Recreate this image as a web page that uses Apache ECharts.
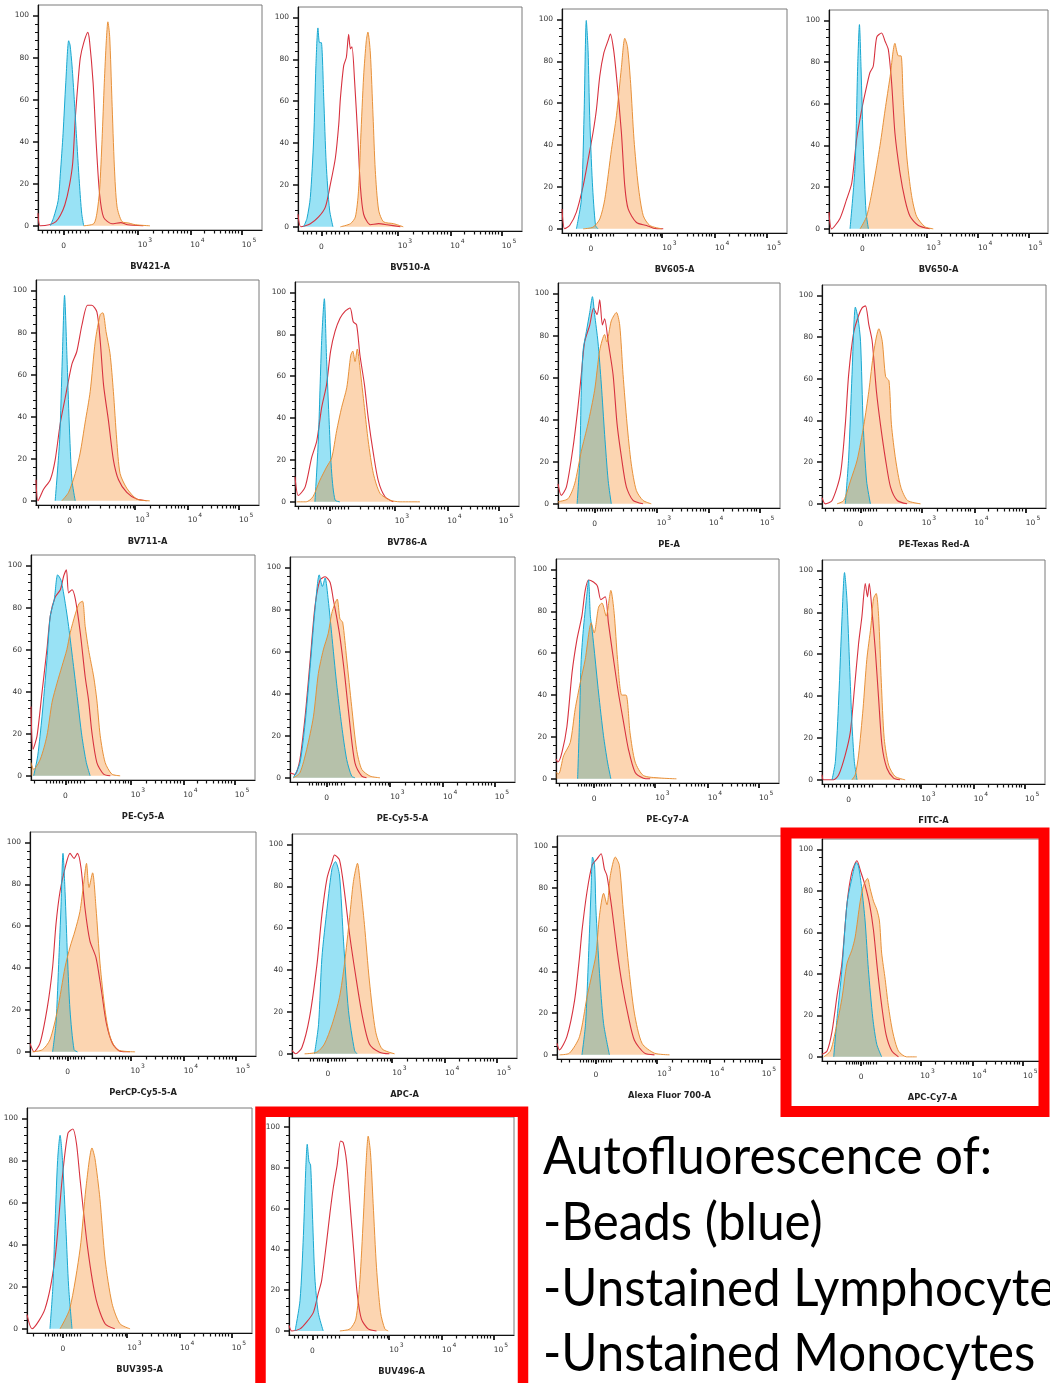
<!DOCTYPE html>
<html>
<head>
<meta charset="utf-8">
<script src="https://cdn.jsdelivr.net/npm/echarts@6/dist/echarts.min.js"></script>
<style>
html,body{margin:0;padding:0;background:#fff;}
#chart{width:1050px;height:1383px;}
</style>
</head>
<body>
<div id="chart"></div>
<script>
// ---------- Panel names and axis tick labels ----------
const PANELS = ['BV421-A','BV510-A','BV605-A','BV650-A','BV711-A','BV786-A','PE-A','PE-Texas Red-A',
  'PE-Cy5-A','PE-Cy5-5-A','PE-Cy7-A','FITC-A','PerCP-Cy5-5-A','APC-A','Alexa Fluor 700-A','APC-Cy7-A',
  'BUV395-A','BUV496-A'];
// x axis in display channels (0-100); channel of the "0" label for each panel
const ZERO_CH = [11.5,10.4,12.8,15.2,15.1,15.3,16.5,17.2,15.3,16.3,17.1,11.9,16.6,16,17.3,17.7,16,10.4];
const DEC_CH = [44.5, 68, 91];          // channels of 10^3, 10^4, 10^5
const DEC_EXP = ['3','4','5'];           // 10^3, 10^4, 10^5
const Y_TICKS = [0,20,40,60,80,100];
const Y_MINOR = [4,8,12,16,24,28,32,36,44,48,52,56,64,68,72,76,84,88,92,96];
const NOTE_LINES = ['Autofluorescence of:','-Beads (blue)','-Unstained Lymphocytes (red)','-Unstained Monocytes (orange)'];

// ---------- Histogram data: [channel, % of max] ----------
const BV421_beads = [[5.5,0],[7,4],[9,12],[10,25],[11.2,44],[12.4,68],[13.7,88],[14.3,86],[15.2,76],[16.2,60],[17.1,44],[18.5,20],[19.5,6],[20.4,0]];
const BV421_lymph = [[0,6],[1,0],[5,0.5],[8,2],[10,5],[12,10],[14,19],[15.5,30],[16.7,52],[18,70],[18.9,80],[20.4,87],[22.2,92],[23,88],[24.6,68],[26,39],[27.5,15],[29.3,4],[33,1],[37,1.5],[40,0.5],[47,0]];
const BV421_mono = [[20.4,0],[24.9,1],[26.3,6],[27.5,17],[28.6,41],[29.6,68],[30.5,88],[31.2,97],[32,90],[33,60],[34.1,28],[35.3,9],[37.5,2],[40.5,1.3],[43.5,0.5],[50,0]];

const BV510_beads = [[2.5,0],[4,4],[5.5,14],[7,42],[8,77],[8.9,95],[9.6,88],[10.4,88],[11.5,61],[12.6,30],[14.1,8],[15.6,0]];
const BV510_lymph = [[0,6],[1.3,0],[5.5,1.5],[9.2,4.7],[12.2,9.4],[14.4,20],[16.7,33],[18.2,49],[18.9,61],[20.4,77],[21.6,81],[22.6,92],[23.4,85],[24.1,86],[25.3,69],[26.8,41],[27.8,20],[29.3,6],[32.3,1],[36,1.5],[39.7,1],[45.7,0]];
const BV510_mono = [[18.9,0],[23.4,1.5],[25.6,4.7],[27,17],[28,42],[29.3,72],[30.5,89],[31.2,93],[32.3,83],[33.5,53],[34.5,27],[36,8],[38.2,2.4],[42.7,1.5],[47,0]];

const BV605_beads = [[6.4,0],[8.6,14],[9.8,54],[10.8,99.5],[11.6,85],[12.3,54],[13.5,22],[14.9,1.6],[16,0]];
const BV605_lymph = [[0,9.5],[1.2,0],[3.4,1.6],[6.4,8],[9.4,20.5],[11.6,33],[13.8,46],[15.3,57],[16.8,73],[18.6,84],[20.5,90],[21.5,93],[23,85],[24.5,69.5],[26.4,46],[27.9,20.5],[29.4,9.5],[33.1,3],[37.6,1.6],[40.6,0.3],[45,0]];
const BV605_mono = [[9.4,0],[13.8,0.8],[16.8,4.7],[19,14],[22,38],[24.2,54],[26.4,77],[27.9,91],[29.1,87],[30.5,69.5],[32,42.6],[33.9,20.5],[36.1,6.3],[39,1.6],[44.3,0]];

const BV650_beads = [[9.6,0],[11.9,30],[13.1,78],[13.9,98],[14.6,78],[15.7,38],[16.9,8],[18,0]];
const BV650_lymph = [[0,8],[1.2,0],[5,5],[8,14],[10.4,22],[12.6,43],[14.9,57],[16.9,67],[18.7,75],[20.2,78],[21.8,92],[24,94],[25.6,90],[27.1,86],[28.6,70],[30.1,46],[32.4,27],[34.7,14],[37,6],[40.8,1.6],[46,0]];
const BV650_mono = [[14.2,0],[17.2,6],[20.2,21],[23.3,40],[25.6,57],[27.9,73],[30.1,89],[31.7,83],[32.9,83],[33.9,62],[35.5,35],[37.7,16],[40,6],[43.8,1],[47.6,0]];

const BV711_beads = [[8.6,0],[10.6,29],[11.8,68],[12.8,97.7],[13.9,68],[14.9,37],[16.1,10],[17.6,0]];
const BV711_lymph = [[0,10],[0.9,0],[3.4,5.5],[6.4,10],[8.6,19.5],[10.9,37],[13.1,49],[16.1,65],[18.3,71],[20.6,83.6],[23.1,93],[25,93],[27.3,89.8],[28.8,76],[30.3,55],[32.5,38],[34.7,19.5],[37,10],[40.7,4],[45.2,0.8],[49.6,0]];
const BV711_mono = [[11.6,0],[14.6,4],[17.6,13],[19.8,22.7],[22,37],[24.3,52],[26.6,76],[28.8,88.6],[30,89.4],[31.4,80.5],[33.2,70],[34.7,52],[36.2,29],[37.7,13],[40.7,6],[45.2,0.8],[51,0]];

const BV786_beads = [[8.9,0],[10.4,29],[11.9,77],[13.1,97],[14.1,68],[15.3,37],[16.4,13.4],[17.9,0.8],[20,0]];
const BV786_lymph = [[0,12],[1.5,3],[4.5,7],[7.4,21],[9.7,29],[11.9,45],[14.1,56],[15.9,72],[17.9,81.5],[20.1,87.7],[22.3,91],[24.6,92.6],[26,86],[27.5,84.5],[29,70],[31,56],[32.7,40],[35,23],[37.2,10],[40.2,2.4],[43.9,0]];
const BV786_mono = [[0.7,0],[5,0],[8,2.4],[11,10],[14.1,16.6],[16.4,21],[18.6,34],[20.8,45],[23.1,54.5],[24.9,70],[25.8,72],[26.8,67],[27.8,73],[29,64],[31,45],[32.7,29],[35,13.4],[38,4],[42.4,0.8],[46.9,0],[55.8,0]];

const PE_beads = [[8.6,0],[9.8,20.5],[10.5,54],[11.3,73],[12.8,82],[14.3,91],[15.5,98.5],[16.5,90],[18,77],[19.5,57],[21,33],[22.6,11],[24,0]];
const PE_lymph = [[0,9.5],[1.5,4],[3.8,8],[6.8,27],[9,46],[10.5,61.5],[12,77],[14.3,85],[16,93],[17.6,90],[18.8,97],[20,85],[21,88],[22.6,77],[24.8,61.5],[26.6,38],[28.6,22],[30.8,8],[33.8,1.6],[38.3,0]];
const PE_mono = [[0,1],[4.5,2.4],[7.5,9.5],[10.5,25],[13.5,38],[16.5,54],[18.8,73],[21,80.5],[22,77],[24,87],[26.3,91],[27.8,85],[29.3,61.5],[31.1,38],[33,19],[35.3,6.3],[38.3,1.6],[42,0]];

const PETR_beads = [[10.4,0],[11.9,22],[13.4,62],[14.9,94.4],[16.1,89],[17.2,78],[18.4,38],[19.9,11],[21.6,0]];
const PETR_lymph = [[0,3],[1.5,0],[4.5,1.6],[8.2,14],[10.4,38],[11.9,62],[14.2,82.5],[16.4,90.5],[17.9,94],[19.4,95],[20.9,86],[22.4,78],[24.3,54],[26.1,38],[28.4,21],[30.6,8],[33.6,1.6],[38,0]];
const PETR_mono = [[6.7,0],[9.7,1.6],[12.7,11],[15.7,21],[18.7,38],[20.9,54],[23.1,73],[25.4,84],[26.9,78],[28.4,61],[29.9,59],[31,38],[32.9,21],[35.2,8],[38.2,1.6],[44,0]];

const PECy5_beads = [[1.2,0],[3,9.5],[4.9,28],[7.1,55],[8.6,76],[10.4,84],[11.9,95.6],[13.4,93],[15.3,82],[16.8,71],[19,52],[20.8,36],[22.7,19],[24.7,6.3],[26.4,0]];
const PECy5_lymph = [[0,33],[0.9,12.6],[2.7,19],[4.9,39.5],[7.1,60],[8.6,76],[10.8,85],[13.1,88.5],[14.6,95],[15.8,98],[16.8,87],[18.3,88.5],[19.8,84],[22,68],[24.2,47],[25.7,36],[27.2,20.5],[29.4,6.3],[32.4,0.8],[35.4,0]];
const PECy5_mono = [[0,6.3],[1.2,3],[4.2,8],[7.1,19],[9.4,35],[11.6,44],[13.8,52],[16,60],[17.5,68],[19.8,77],[21.5,82],[23,83],[24.2,71],[25.7,60],[28,47],[29.4,36],[30.9,19],[33.1,6.3],[36.1,0.8],[39.8,0]];

const PECy55_beads = [[1.5,0],[4.4,7],[6.7,26],[8.9,52],[11.1,80],[13,96.5],[14.4,91],[15.6,95],[17,84.5],[18.5,68.7],[20.7,45],[23,24.6],[25.2,8.7],[27.4,0.8],[28.9,0]];
const PECy55_lymph = [[0,2.4],[2.2,1.6],[4.4,8.7],[6.7,29],[8.9,55],[11.1,81.5],[13.3,94],[15.6,95.6],[17.8,93],[19.3,84.5],[20.7,76.6],[22.2,67],[24.4,48],[26.7,24.6],[28.9,7],[31.9,0.8],[34,0]];
const PECy55_mono = [[1.5,0],[4.4,2.4],[7.4,13.4],[10.4,29],[12.6,49.6],[14.8,60.8],[17,68.7],[18.5,78],[20,83],[21,85],[22.2,75.5],[23.4,74],[25.2,56.5],[27.4,34],[29.6,13.4],[31.9,4],[35.6,0.8],[40,0]];

const PECy7_beads = [[9.7,0],[10.6,30],[11.3,57],[12.4,73],[13.9,88.6],[14.6,95],[15.4,77.7],[16,73],[17.1,62],[19.1,41],[21.3,20.6],[23.1,8],[24.6,0]];
const PECy7_lymph = [[0,9.5],[0.9,8],[2.7,12.7],[4.9,25],[7.2,50.7],[9.4,66.6],[11.6,77.7],[13.1,90],[14.6,95],[16.8,94],[18.6,92],[20.1,85.6],[22.1,87],[23.5,74.5],[25.8,57],[28,41],[30.3,27],[32.5,14],[35.5,3],[39.2,0.3],[42.2,0]];
const PECy7_mono = [[0,3],[1.2,2.4],[3.4,11],[6.4,17.4],[8.6,33.3],[10.9,46],[13.1,57],[15.8,74.5],[17.1,69.7],[19.1,82],[20.6,84],[22.5,77.7],[24.6,90],[26.1,79],[27.6,57],[29.5,40],[31.4,40],[33.2,22],[35.5,8],[39.2,1.6],[46.6,0.4],[54,0]];

const FITC_beads = [[4.5,0],[6,8.7],[7.5,38.6],[9,78],[10.1,99],[11.2,85.8],[12.4,54],[13.4,27.6],[14.5,8.7],[15.7,0]];
const FITC_lymph = [[0,2.4],[0.7,0],[5.2,0],[7.5,2.4],[10.4,11.8],[12.7,22.8],[14.5,43],[16.4,65],[17.9,78],[19.4,93.7],[20.4,87.4],[21.2,93.7],[22.4,81],[23.9,62],[25.4,38.6],[26.9,16.5],[29.1,5.5],[32.1,0.8],[35,0]];
const FITC_mono = [[13.4,0],[14.9,2.4],[16.4,11.8],[18.4,33.9],[20.1,57.5],[21.9,73],[23.1,86.6],[24.3,89],[25.4,78],[26.6,46.5],[27.9,19.7],[29.9,7],[32.8,1.6],[37.3,0]];

const PerCP_beads = [[10,0],[11.5,13.6],[12.8,45],[13.7,68.8],[14.6,94.8],[15.5,76.7],[16.6,45],[17.7,20],[19.5,1],[21,0]];
const PerCP_lymph = [[0,4],[1.8,0],[4.4,4],[7.7,21.5],[10,40.4],[11.5,61],[13.3,76.7],[15.5,87.7],[17.7,94.8],[19.5,92.4],[21,94.8],[22.6,87.7],[24.3,68.8],[26.5,53],[29.2,45],[31.6,29.3],[33.8,13.6],[36.5,4],[39.8,0.3],[44.2,0]];
const PerCP_mono = [[1.1,0],[5.5,1],[8.8,5.7],[12.2,20],[15.5,40.4],[17.7,50],[19.9,57.7],[22.1,67],[23.7,80],[25,90],[26.1,78.5],[27.7,85.5],[29.2,68.8],[31,42],[33.2,20],[35.4,7.3],[38.7,1],[46.5,0]];

const APC_beads = [[10,0],[11.8,14],[13.3,46],[15.6,69.6],[17.8,88.6],[19.3,91.8],[21.1,85.4],[22.9,53.8],[25.1,20.6],[27.8,1.6],[28.9,0]];
const APC_lymph = [[0,1.6],[1.6,0],[4.4,3],[7.8,17.4],[11.1,42.7],[13.3,66.5],[15.6,84],[17.8,91.8],[18.9,95],[21.1,92.6],[23.3,77.5],[25.6,57],[28.2,38],[31.1,19],[34.4,4.7],[38.9,0.8],[43.3,0]];
const APC_mono = [[5.6,0],[11.1,0.8],[14.4,4.7],[17.8,14],[21.1,27],[23.3,42.7],[25.6,65],[27.3,82.3],[29.1,91],[30.4,80.7],[32.2,61.7],[34.4,34.8],[37.1,11],[40,2.4],[45.6,0]];

const AF700_beads = [[11.1,0],[12.7,15],[14,46.8],[15.1,78],[15.8,94.9],[16.7,91],[17.3,70],[18.9,39],[20.7,15],[23.3,0]];
const AF700_lymph = [[0,5.5],[1.1,2.4],[4.4,8.7],[7.8,26],[10,46.8],[11.1,59.5],[13.3,78],[15.6,91],[17.8,94],[19.6,96.5],[21.1,89],[22.2,86],[24.4,70],[26.7,50],[28.9,34],[31.8,18],[34.4,7],[38.9,0.8],[43.3,0]];
const AF700_mono = [[1.1,0],[5.5,0.8],[10,8.7],[13.3,27.5],[15.6,39],[17.3,48],[18.9,67],[20.7,77.5],[22.2,72],[23.7,86],[25.9,94.9],[27.7,91],[29.4,70],[31.7,44],[34.4,20],[37.8,5.5],[43.3,0.8],[50,0]];

const APCCy7_beads = [[5.3,0],[6.8,18.5],[9,42],[11.3,73.7],[13.5,86],[15.5,93.7],[16.5,92],[18,81],[19.5,65.5],[21,42],[23,18.5],[24.8,6],[27,0]];
const APCCy7_lymph = [[0,1.2],[2.3,2.8],[4.5,12],[6.8,29.5],[9,45],[11.3,73.7],[13.5,89],[15.8,94.5],[17.6,89],[19.5,82.6],[21.5,73.7],[23.3,61],[25.1,42],[27,24.8],[29,10.7],[31.6,2.8],[34.6,0]];
const APCCy7_mono = [[0.8,0],[3.8,2.8],[6,12],[9,28],[11.3,45],[13.5,51.4],[15,57.7],[17.3,75],[18.8,82.6],[20.6,86],[21.8,81],[23.3,75],[24.8,71],[26,65.5],[27,50],[28.6,37.3],[30,24.8],[32,12],[34.6,2.8],[38.3,0],[42.9,0]];

const BUV395_beads = [[10.2,0],[11.5,20],[12.4,47.6],[13.6,80],[14.7,92],[15.8,80],[17.3,47.6],[18.5,20],[20,0]];
const BUV395_lymph = [[0,6.7],[2.2,0],[8,9.5],[12.4,33],[15.6,71],[18.2,93],[20.4,95],[22,88],[23.6,71],[27,38],[30.7,14],[34.7,2.4],[39,0]];
const BUV395_mono = [[14.7,0],[19,9.5],[23.6,38],[26.2,67],[28.9,86],[30.2,81],[32.4,62],[34.7,33],[37.8,12],[41.3,2.4],[45.8,0]];

const BUV496_beads = [[2.7,0],[4.9,15],[6.4,46.8],[7.4,78],[8.1,91.6],[8.9,83],[9.6,81.4],[10.5,54.6],[11.5,26],[13,9],[15.2,0]];
const BUV496_lymph = [[0,2.7],[1.2,0],[4.9,1],[7.8,4.3],[10.8,9],[13,18.4],[14.5,24.7],[16.7,43.6],[18.2,57.8],[19.7,70.4],[21.4,81.4],[22.9,93.2],[24.1,92.4],[25.6,83],[27.1,62.5],[28.8,38.9],[30.3,18.4],[32.2,5.8],[35.2,1],[38.9,0]];
const BUV496_mono = [[22.6,0],[27.1,1],[29.7,5.8],[31.5,24.7],[33,54.6],[34.2,81.4],[35.2,95.6],[36.2,87.7],[37.4,62.5],[38.9,31],[40.7,9],[42.6,1],[44.1,0]];

const PANEL_DATA = [
  [BV421_beads,BV421_lymph,BV421_mono],[BV510_beads,BV510_lymph,BV510_mono],
  [BV605_beads,BV605_lymph,BV605_mono],[BV650_beads,BV650_lymph,BV650_mono],
  [BV711_beads,BV711_lymph,BV711_mono],[BV786_beads,BV786_lymph,BV786_mono],
  [PE_beads,PE_lymph,PE_mono],[PETR_beads,PETR_lymph,PETR_mono],
  [PECy5_beads,PECy5_lymph,PECy5_mono],[PECy55_beads,PECy55_lymph,PECy55_mono],
  [PECy7_beads,PECy7_lymph,PECy7_mono],[FITC_beads,FITC_lymph,FITC_mono],
  [PerCP_beads,PerCP_lymph,PerCP_mono],[APC_beads,APC_lymph,APC_mono],
  [AF700_beads,AF700_lymph,AF700_mono],[APCCy7_beads,APCCy7_lymph,APCCy7_mono],
  [BUV395_beads,BUV395_lymph,BUV395_mono],[BUV496_beads,BUV496_lymph,BUV496_mono]
];

// ---------- Layout (plot frames in page px: left, top, right, bottom) ----------
const LAYOUT = [
  [38,5,262,230],[298,7,522,231],[562,9,787,233],[829,10,1048,233],
  [36,280,259,505],[295,282,519,506],[558,283,780,508],[822,285,1046,508],
  [31,555,255,780],[290,557,515,782],[556,559,779,783],[822,560,1045,784],
  [30,832,256,1056],[292,834,517,1058],[557,836,782,1059],[822,839,1043,1061],
  [27,1108,252,1333],[289,1117,514,1335]
];

// minor tick channels for a biexponential-like display scale
function minorTicks(z){
  const b = (DEC_CH[2]-DEC_CH[1]) / Math.LN10;
  const c = 1000 / Math.sinh((DEC_CH[0]-z)/b);
  const vals = [];
  [15,30,45,60,80,100,200,300,400,500,600,700,800,900].forEach(v=>{vals.push(v);vals.push(-v);});
  for (let k=2;k<10;k++){vals.push(k*1000);vals.push(k*10000);}
  return vals.map(v=> z + b*Math.asinh(v/c)).filter(p=>p>0.4 && p<99.6);
}

const chart = echarts.init(document.getElementById('chart'), null, {renderer:'canvas'});
const grids=[], xAxes=[], yAxes=[], series=[];
const TXT = {fontFamily:'DejaVu Sans', fontSize:7.5, color:'#333'};
const RICH = {
  b:{fontFamily:'DejaVu Sans', fontSize:7.5, color:'#333', verticalAlign:'bottom', lineHeight:12},
  s:{fontFamily:'DejaVu Sans', fontSize:6, color:'#333', verticalAlign:'top', lineHeight:12, padding:[0,0,0,1]}
};
PANELS.forEach((name,i)=>{
  const [L,T,R,B] = LAYOUT[i];
  grids.push({left:L, top:T, width:R-L, height:B-T, show:true, borderColor:'#7a7a7a', borderWidth:1, backgroundColor:'#fff'});
  const z = ZERO_CH[i];
  xAxes.push({gridIndex:i, type:'value', min:0, max:100, position:'bottom',
    axisLine:{onZero:false, lineStyle:{color:'#111', width:1.2}},
    axisTick:{customValues:[z].concat(DEC_CH), length:5, lineStyle:{color:'#111', width:1.8}},
    axisLabel:{customValues:DEC_CH, align:'left', margin:7, rich:RICH,
      formatter:(v)=>{let k=0;DEC_CH.forEach((d,j)=>{if(Math.abs(d-v)<Math.abs(DEC_CH[k]-v))k=j;});return '{b|10}{s|'+DEC_EXP[k]+'}';}},
    splitLine:{show:false},
    name:name, nameLocation:'middle', nameGap:33,
    nameTextStyle:{fontFamily:'DejaVu Sans', fontWeight:'bold', fontSize:8.3, color:'#222'}
  });
  xAxes.push({gridIndex:i, type:'value', min:0, max:100, position:'bottom',
    axisLine:{show:false, onZero:false},
    axisTick:{show:true, customValues:minorTicks(z), length:3.5, lineStyle:{color:'#111', width:1.2}},
    axisLabel:Object.assign({customValues:[z], margin:12, formatter:()=> '0'}, TXT),
    splitLine:{show:false}
  });
  yAxes.push({gridIndex:i, type:'value', min:-2, max:105, position:'left',
    axisLine:{show:true, onZero:false, lineStyle:{color:'#111', width:1.2}},
    axisTick:{customValues:Y_TICKS, length:5, lineStyle:{color:'#111', width:1.5}},
    axisLabel:Object.assign({customValues:Y_TICKS, margin:9}, TXT),
    splitLine:{show:false}
  });
  yAxes.push({gridIndex:i, type:'value', min:-2, max:105, position:'left',
    axisLine:{show:false, onZero:false},
    axisTick:{show:true, customValues:Y_MINOR, length:3, lineStyle:{color:'#111', width:1}},
    axisLabel:{show:false},
    splitLine:{show:false}
  });
  const [beads, lymph, mono] = PANEL_DATA[i];
  const common = {type:'line', xAxisIndex:2*i, yAxisIndex:2*i, showSymbol:false, smooth:0.25, silent:true, animation:false};
  series.push(Object.assign({name:'Unstained Lymphocytes', data:lymph,
    lineStyle:{color:'#d7323f', width:1.1}}, common));
  series.push(Object.assign({name:'Beads', data:beads,
    lineStyle:{color:'#19a8d0', width:1}, areaStyle:{color:'rgba(13,187,230,0.6)', origin:0}}, common));
  series.push(Object.assign({name:'Unstained Monocytes', data:mono,
    lineStyle:{color:'rgba(230,140,50,0.95)', width:1}, areaStyle:{color:'rgba(244,122,11,0.45)', origin:0}}, common));
});

// note text, width-matched to the reference line
const NOTE_FONT = '52px Lato';
const mctx = document.createElement('canvas').getContext('2d');
mctx.font = NOTE_FONT;
const noteScale = 449 / mctx.measureText(NOTE_LINES[0]).width;
const NOTE_Y = [1157, 1223, 1289, 1354];
const graphics = NOTE_LINES.map((t,k)=>({type:'text', x:543, y:NOTE_Y[k], scaleX:noteScale, z:50,
  style:{text:t, font:NOTE_FONT, fill:'#000', verticalAlign:'middle', align:'left'}}));
graphics.push({type:'rect', z:100, shape:{x:786, y:833, width:258, height:278.5},
  style:{fill:'none', stroke:'#ff0000', lineWidth:11}});
graphics.push({type:'rect', z:100, shape:{x:260.5, y:1111.7, width:262.5, height:320},
  style:{fill:'none', stroke:'#ff0000', lineWidth:10.5}});

chart.setOption({
  animation:false,
  backgroundColor:'#fff',
  grid:grids, xAxis:xAxes, yAxis:yAxes, series:series,
  graphic:graphics
});
</script>
</body>
</html>
